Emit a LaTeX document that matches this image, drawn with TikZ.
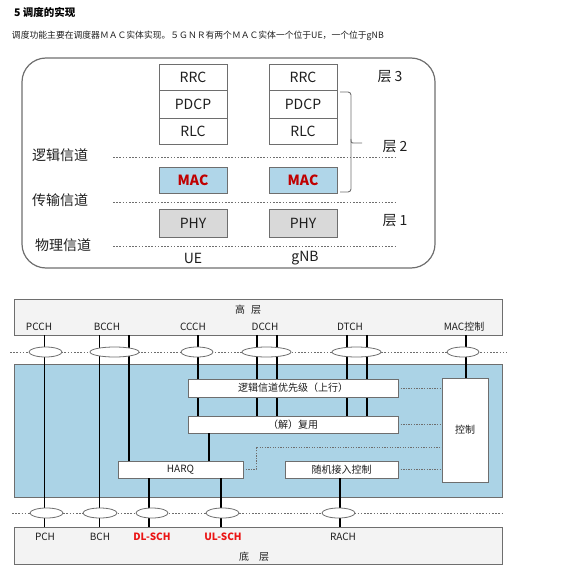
\documentclass[tikz,border=0pt]{standalone}
\usepackage{fontspec}
\setmainfont{Noto Sans CJK SC}
\usetikzlibrary{shapes.geometric}
\definecolor{macblue}{RGB}{176,214,233}
\definecolor{regblue}{RGB}{171,211,230}
\definecolor{phygray}{RGB}{217,217,217}
\definecolor{bggray}{RGB}{243,243,243}
\definecolor{linegray}{RGB}{110,110,110}
\definecolor{txtgray}{RGB}{30,30,30}
\definecolor{macred}{RGB}{192,0,0}
\definecolor{schred}{RGB}{235,20,20}
\begin{document}
\begin{tikzpicture}[x=1pt,y=-1pt,
  every node/.style={inner sep=0pt, outer sep=0pt, text=txtgray},
  big/.style={font=\fontsize{14}{16}\selectfont},
  small/.style={font=\fontsize{10}{12}\selectfont},
  stackbox/.style={draw=linegray, line width=0.9pt, fill=white, minimum width=68pt, anchor=north west, big},
  macbox/.style={stackbox, fill=macblue, font=\fontsize{14}{16}\selectfont\bfseries, text=macred},
  phybox/.style={stackbox, fill=phygray},
  layerline/.style={draw=linegray, line width=0.7pt, dash pattern=on 1.6pt off 1.6pt},
  bar/.style={draw=linegray, line width=0.8pt, fill=bggray, anchor=north west, minimum width=488pt, minimum height=36pt},
  inbox/.style={draw=linegray, line width=0.8pt, fill=white, anchor=north west, small},
  chan/.style={draw=black, line width=1.3pt},
  ctl/.style={draw=linegray, line width=0.7pt, dash pattern=on 1.3pt off 1.3pt},
  ell/.style={ellipse, draw=linegray, line width=0.8pt, fill=white, minimum height=10pt}
]
\useasboundingbox (0,0) rectangle (568,572);

% ---------- heading ----------
\node[anchor=west, font=\fontsize{10.5}{12}\selectfont\bfseries, text=black] (title) at (14,12) {5 调度的实现};
\node[anchor=west, font=\fontsize{8.8}{11}\selectfont] (intro) at (12,36) {调度功能主要在调度器ＭＡＣ实体实现。５ＧＮＲ有两个ＭＡＣ实体一个位于UE，一个位于gNB};

% ---------- upper diagram ----------
\node[draw=linegray, line width=1.2pt, rounded corners=24pt, anchor=north west, minimum width=413pt, minimum height=210pt] (frame) at (22,58) {};

\node[stackbox, minimum height=26pt] (ueRRC) at (159,64) {RRC};
\node[stackbox, minimum height=28pt] (uePDCP) at (159,90) {PDCP};
\node[stackbox, minimum height=26pt] (ueRLC) at (159,118) {RLC};
\node[macbox, minimum height=26pt] (ueMAC) at (159,167) {MAC};
\node[phybox, minimum height=28pt] (uePHY) at (159,209) {PHY};

\node[stackbox, minimum height=26pt] (gRRC) at (269,64) {RRC};
\node[stackbox, minimum height=28pt] (gPDCP) at (269,90) {PDCP};
\node[stackbox, minimum height=26pt] (gRLC) at (269,118) {RLC};
\node[macbox, minimum height=26pt] (gMAC) at (269,167) {MAC};
\node[phybox, minimum height=28pt] (gPHY) at (269,209) {PHY};

\draw[layerline] (113,157) -- (395,157);
\draw[layerline] (113,202) -- (395,202);
\draw[layerline] (113,246) -- (395,246);

\node[big] (logi) at (60,155) {逻辑信道};
\node[big] (trans) at (60,200) {传输信道};
\node[big] (phys) at (63,245) {物理信道};
\node[big] (l3) at (390,77) {层 3};
\node[big] (l2) at (395,147) {层 2};
\node[big] (l1) at (395,221) {层 1};
\node[big] (ue) at (193,258) {UE};
\node[big] (gnb) at (305,258) {gNB};

\coordinate (brT) at (340,92);
\coordinate (brB) at (340,192);
\coordinate (brM) at (362,143);
\draw[linegray, line width=0.9pt, rounded corners=3pt] (brT) -- (351,92) -- (351,192) -- (brB);
\draw[linegray, line width=0.9pt] (351,139) .. controls (351,143) .. (355,143) -- (brM);

% ---------- lower diagram ----------
\node[bar] (hl) at (14,299) {};
\node[small] (hltxt) at (248,310) {高\hspace{6pt}层};
\node[draw=linegray, line width=0.8pt, fill=regblue, anchor=north west, minimum width=488pt, minimum height=133pt] (mac) at (14,364) {};
\node[bar, minimum height=37pt] (ll) at (14,527) {};
\node[small] (lltxt) at (254,557) {底\hspace{10pt}层};

% channel labels
\node[small] (tPCCH) at (39,327) {PCCH};
\node[small] (tBCCH) at (107,327) {BCCH};
\node[small] (tCCCH) at (193,327) {CCCH};
\node[small] (tDCCH) at (265,327) {DCCH};
\node[small] (tDTCH) at (350,327) {DTCH};
\node[small] (tMACC) at (464,327) {MAC控制};

\node[small] (tPCH) at (45,537) {PCH};
\node[small] (tBCH) at (100,537) {BCH};
\node[small, font=\fontsize{10}{12}\selectfont\bfseries, text=schred] (tDL) at (152,537) {DL-SCH};
\node[small, font=\fontsize{10}{12}\selectfont\bfseries, text=schred] (tUL) at (223,537) {UL-SCH};
\node[small] (tRACH) at (343,537) {RACH};

% channel x-positions
\coordinate (xPCCH) at (44.5,0);
\coordinate (xBC1) at (99.5,0);
\coordinate (xBC2) at (129,0);
\coordinate (xCC) at (198,0);
\coordinate (xDC1) at (257,0);
\coordinate (xDC2) at (277,0);
\coordinate (xDT1) at (347,0);
\coordinate (xDT2) at (367,0);
\coordinate (xMC) at (466,0);
\coordinate (xMUX) at (209,0);
\coordinate (xDL) at (149,0);
\coordinate (xUL) at (221,0);
\coordinate (xRA) at (340,0);

% inner boxes positions (drawn later)
\coordinate (muxTop) at (0,416);
\coordinate (harqTop) at (0,461);
\coordinate (ctrlTop) at (0,378);

% vertical channel lines
\draw[chan] (hl.south -| xPCCH) -- (ll.north -| xPCCH);
\draw[chan] (hl.south -| xBC1) -- (ll.north -| xBC1);
\draw[chan] (hl.south -| xBC2) -- (harqTop -| xBC2);
\draw[chan] (hl.south -| xCC) -- (muxTop -| xCC);
\draw[chan] (hl.south -| xDC1) -- (muxTop -| xDC1);
\draw[chan] (hl.south -| xDC2) -- (muxTop -| xDC2);
\draw[chan] (hl.south -| xDT1) -- (muxTop -| xDT1);
\draw[chan] (hl.south -| xDT2) -- (muxTop -| xDT2);
\draw[chan] (hl.south -| xMC) -- (ctrlTop -| xMC);

% inner boxes
\node[inbox, minimum width=210pt, minimum height=18pt] (prio) at (188,379) {逻辑信道优先级（上行）};
\node[inbox, minimum width=210pt, minimum height=17pt] (mux) at (188,416) {（解）复用};
\node[inbox, minimum width=46pt, minimum height=104pt] (ctrl) at (442,378) {控制};
\node[inbox, minimum width=125pt, minimum height=17pt] (harq) at (118,461) {HARQ};
\node[inbox, minimum width=113pt, minimum height=17pt] (rach) at (285,461) {随机接入控制};

\draw[chan] (mux.south -| xMUX) -- (harq.north -| xMUX);
\draw[chan] (harq.south -| xDL) -- (ll.north -| xDL);
\draw[chan] (harq.south -| xUL) -- (ll.north -| xUL);
\draw[chan] (rach.south -| xRA) -- (ll.north -| xRA);

% control dotted links
\coordinate (hc) at (256,447);
\draw[ctl] (prio.east) -- (prio.east -| ctrl.west);
\draw[ctl] (mux.east) -- (mux.east -| ctrl.west);
\draw[ctl] (harq.east) -| (hc) -- (hc -| ctrl.west);
\draw[ctl] (rach.east) -- (rach.east -| ctrl.west);

% dotted layer separators and SAP ellipses
\draw[layerline] (10,352) -- (507,352);
\draw[layerline] (12,513) -- (503,513);

\node[ell, minimum width=33pt] (ePCCH) at (45.5,352) {};
\node[ell, minimum width=49pt] (eBCCH) at (114.5,352) {};
\node[ell, minimum width=32pt] (eCCCH) at (197,352) {};
\node[ell, minimum width=49pt] (eDCCH) at (266.5,352) {};
\node[ell, minimum width=49pt] (eDTCH) at (356.5,352) {};
\node[ell, minimum width=32pt] (eMACC) at (463,352) {};

\node[ell, minimum width=33pt] (ePCH) at (46.5,513) {};
\node[ell, minimum width=34pt] (eBCH) at (100,513) {};
\node[ell, minimum width=32pt] (eDL) at (152,513) {};
\node[ell, minimum width=33pt] (eUL) at (222.5,513) {};
\node[ell, minimum width=33pt] (eRA) at (338.5,513) {};
\end{tikzpicture}
\end{document}
